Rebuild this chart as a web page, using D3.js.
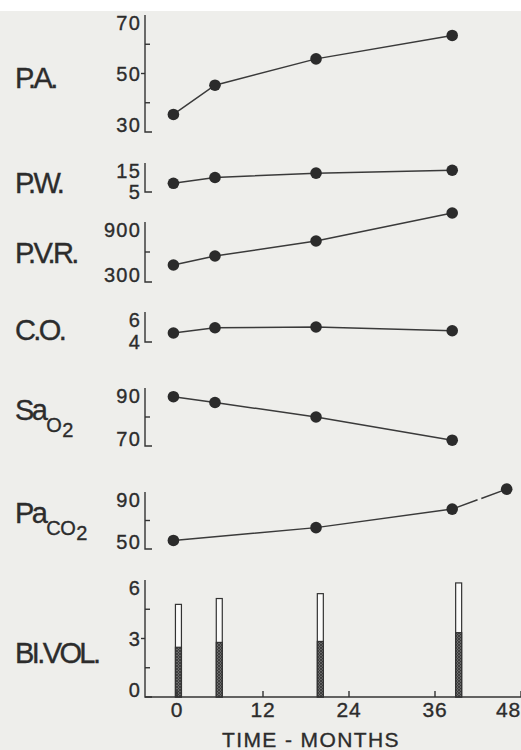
<!DOCTYPE html>
<html>
<head>
<meta charset="utf-8">
<title>Haemodynamics over time</title>
<script src="https://d3js.org/d3.v7.min.js"></script>
<style>
  body { margin: 0; background: #fff; }
  text { font-family: "Liberation Sans", Arial, sans-serif; fill: #2c2c2c; stroke: #2c2c2c; stroke-width: 0.35; }
</style>
</head>
<body>
<div id="plot"></div>
<script>
// --- data ---
var months      = [-0.5, 5.3, 19.4, 38.4];
var pa          = [36, 46, 55, 63];
var pw          = [8, 10, 11.5, 12.5];
var pvr         = [470, 560, 710, 990];
var co          = [4.6, 4.95, 5.0, 4.75];
var sao2        = [87, 85, 80, 72];
var paco2Months = [-0.5, 19.4, 38.4, 46];
var paco2       = [56, 65, 78, 92];
var volMonths   = [0.2, 5.9, 20, 39.3];
var volTotal    = [4.75, 5.05, 5.3, 5.85];
var volRed      = [2.55, 2.8, 2.85, 3.3];
var xTicks      = [0, 12, 24, 36, 48];

var panels = [
  {label: [["P.A."]], domain: [30, 70], ticks: [30, 50, 70], minor: [40, 60], x: months, y: pa},
  {label: [["P.W."]], domain: [5, 15], ticks: [5, 15], minor: [], x: months, y: pw},
  {label: [["P.V.R."]], domain: [300, 900], ticks: [300, 900], minor: [600], x: months, y: pvr},
  {label: [["C.O."]], domain: [4, 6], ticks: [4, 6], minor: [], x: months, y: co},
  {label: [["Sa"], ["O", 1], ["2", 2]], domain: [70, 90], ticks: [70, 90], minor: [80], x: months, y: sao2},
  {label: [["Pa"], ["CO", 1], ["2", 2]], domain: [50, 90], ticks: [50, 90], minor: [70], x: paco2Months, y: paco2, brokenLast: true}
];
var volPanel = {label: [["BI.VOL."]], domain: [0, 6], ticks: [0, 3, 6], minor: [1.5, 4.5]};

// --- layout (pixels) ---
var W = 521, H = 750;
var axisX = 145;
var bands = [[132, 15, 88], [192, 163, 193], [282, 222, 263], [342, 312, 340], [446, 388, 420], [549, 492, 523]];
var volBand = [697, 580, 663];

var svg = d3.select('#plot').append('svg')
  .attr('width', W).attr('height', H);

svg.append('rect').attr('x', 0).attr('y', 11).attr('width', W).attr('height', H - 11)
  .attr('fill', '#eeeeeb');

var defs = svg.append('defs');
var pat = defs.append('pattern').attr('id', 'hatch').attr('patternUnits', 'userSpaceOnUse')
  .attr('width', 3).attr('height', 3);
pat.append('rect').attr('width', 3).attr('height', 3).attr('fill', '#6a6a6a');
pat.append('path').attr('d', 'M0,0L3,3M3,0L0,3').attr('stroke', '#333').attr('stroke-width', 0.8);

var x = d3.scaleLinear().domain([0, 48]).range([177, 521]);

function drawLabel(lab, baseline) {
  var t = svg.append('text').attr('x', 15).attr('y', baseline)
    .attr('font-size', 29).attr('letter-spacing', -2.6);
  var prev = 0;
  lab.forEach(function (p) {
    var lvl = p[1] || 0;
    var shift = [0, 12, 17][lvl] - [0, 12, 17][prev];
    t.append('tspan').attr('dy', shift).attr('dx', lvl ? 1 : 0)
      .attr('font-size', lvl ? 20 : 29)
      .attr('letter-spacing', lvl ? -0.5 : -2.6)
      .text(p[0]);
    prev = lvl;
  });
}

function drawAxis(p, band) {
  var y = d3.scaleLinear().domain(p.domain).range([band[0], band[1]]);
  var g = svg.append('g').attr('stroke', '#333').attr('stroke-width', 1.4).attr('fill', 'none');
  g.append('path').attr('d', 'M' + axisX + ',' + y.range()[1] + 'V' + y.range()[0] + 'h7');
  p.minor.forEach(function (v) {
    g.append('path').attr('d', 'M' + axisX + ',' + y(v) + 'h5');
  });
  var lo = p.domain[0], hi = p.domain[1];
  var small = band[0] - band[1] < 40;
  p.ticks.forEach(function (v) {
    if (v !== lo && v !== hi) g.append('path').attr('d', 'M' + (axisX - 4) + ',' + y(v) + 'h4');
    var dy = v === hi ? '0.73em' : (v === lo ? (small ? '0.36em' : '0') : '0.36em');
    svg.append('text').attr('x', axisX - 4).attr('y', y(v)).attr('dy', dy)
      .attr('text-anchor', 'end').attr('font-size', 20).attr('letter-spacing', 1.2)
      .text(v);
  });
  drawLabel(p.label, band[2]);
  return y;
}

panels.forEach(function (p, i) {
  var y = drawAxis(p, bands[i]);
  var pts = p.x.map(function (m, j) { return [x(m), y(p.y[j])]; });
  var main = p.brokenLast ? pts.slice(0, pts.length - 1) : pts;
  svg.append('path').attr('d', d3.line()(main))
    .attr('fill', 'none').attr('stroke', '#3a3a3a').attr('stroke-width', 1.5);
  if (p.brokenLast) {
    svg.append('path').attr('d', d3.line()(pts.slice(pts.length - 2)))
      .attr('fill', 'none').attr('stroke', '#3a3a3a').attr('stroke-width', 1.5)
      .attr('stroke-dasharray', '27,4');
  }
  svg.selectAll(null).data(pts).enter().append('circle')
    .attr('cx', function (d) { return d[0]; })
    .attr('cy', function (d) { return d[1]; })
    .attr('r', 5.8).attr('fill', '#2b2b2b');
});

// blood volume bars
var yv = drawAxis(volPanel, volBand);
var bw = 6;
volMonths.forEach(function (m, i) {
  svg.append('rect').attr('x', x(m) - bw / 2).attr('y', yv(volTotal[i]))
    .attr('width', bw).attr('height', yv(0) - yv(volTotal[i]))
    .attr('fill', '#fbfbfa').attr('stroke', '#333').attr('stroke-width', 1.2);
  svg.append('rect').attr('x', x(m) - bw / 2).attr('y', yv(volRed[i]))
    .attr('width', bw).attr('height', yv(0) - yv(volRed[i]))
    .attr('fill', 'url(#hatch)').attr('stroke', '#333').attr('stroke-width', 1.2);
});

// time axis
var xa = svg.append('g').attr('stroke', '#333').attr('stroke-width', 1.4).attr('fill', 'none');
xa.append('path').attr('d', 'M' + axisX + ',' + yv(0) + 'H' + W);
xTicks.forEach(function (t) {
  xa.append('path').attr('d', 'M' + x(t) + ',' + yv(0) + 'v-6');
  var tx = svg.append('text').attr('x', x(t)).attr('y', yv(0) + 20)
    .attr('text-anchor', 'middle').attr('font-size', 21).attr('letter-spacing', 0.8)
    .text(t);
  var bb = tx.node().getBBox();
  if (bb.x + bb.width > W) tx.attr('text-anchor', 'end').attr('x', W);
});
svg.append('text').attr('x', 311).attr('y', 747).attr('text-anchor', 'middle')
  .attr('font-size', 21).attr('letter-spacing', 1.4)
  .text('TIME - MONTHS');
</script>
</body>
</html>
